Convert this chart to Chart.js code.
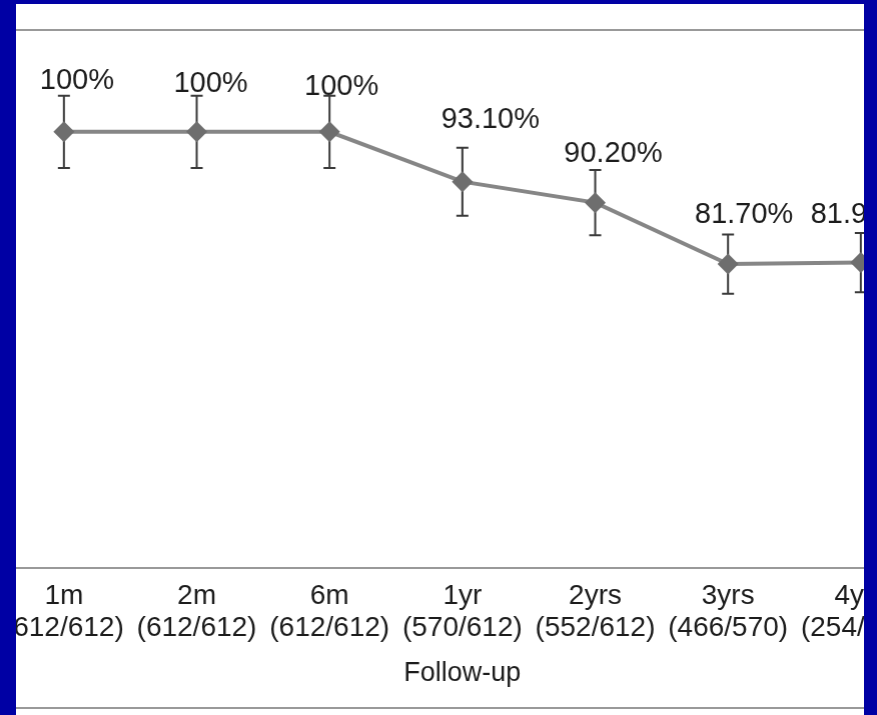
<!DOCTYPE html>
<html>
<head>
<meta charset="utf-8">
<script src="https://cdn.jsdelivr.net/npm/chart.js@4"></script>
<style>
    html, body { margin: 0; padding: 0; }
    body { width: 877px; height: 715px; background: rgb(0, 0, 164); position: relative; overflow: hidden; }
    #frame { position: absolute; left: 16px; top: 4px; width: 848px; height: 711px; background: #fff; overflow: hidden; }
    #frame .rule { position: absolute; left: 0; width: 100%; height: 2px; background: #999; }
    #box { position: absolute; left: -28.8px; top: 0; width: 949.7px; height: 711px; }
</style>
</head>
<body>
<div id="frame">
    <div class="rule" style="top:25px"></div>
    <div class="rule" style="top:703px"></div>
    <div id="box"><canvas id="followChart"></canvas></div>
</div>
<script>
const periods = ['1m', '2m', '6m', '1yr', '2yrs', '3yrs', '4yrs'];
const counts = ['(612/612)', '(612/612)', '(612/612)', '(570/612)', '(552/612)', '(466/570)', '(254/310)'];
const rates = [100, 100, 100, 93.1, 90.2, 81.7, 81.9];
const rateLabels = ['100%', '100%', '100%', '93.10%', '90.20%', '81.70%', '81.90%'];
const errors = [5, 5, 5, 4.7, 4.5, 4.1, 4.1];

Chart.defaults.font.family = '"Liberation Sans", Arial, sans-serif';
Chart.defaults.color = '#1c1c1c';

// error bars, drawn under the markers
const errorBars = {
    id: 'errorBars',
    beforeDatasetsDraw(chart) {
        const ctx = chart.ctx;
        const y = chart.scales.y;
        const meta = chart.getDatasetMeta(0);
        ctx.save();
        ctx.strokeStyle = '#3a3a3a';
        ctx.lineWidth = 2;
        meta.data.forEach((pt, i) => {
            const top = y.getPixelForValue(rates[i] + errors[i]);
            const bottom = y.getPixelForValue(rates[i] - errors[i]);
            ctx.beginPath();
            ctx.moveTo(pt.x, top);
            ctx.lineTo(pt.x, bottom);
            ctx.moveTo(pt.x - 6, top);
            ctx.lineTo(pt.x + 6, top);
            ctx.moveTo(pt.x - 6, bottom);
            ctx.lineTo(pt.x + 6, bottom);
            ctx.stroke();
        });
        ctx.restore();
    }
};

// value labels, nudged by hand like in the original sheet
const valueLabels = {
    id: 'valueLabels',
    afterDatasetsDraw(chart, args, opts) {
        const ctx = chart.ctx;
        const meta = chart.getDatasetMeta(0);
        ctx.save();
        ctx.font = '29px "Liberation Sans", Arial, sans-serif';
        ctx.fillStyle = '#1c1c1c';
        ctx.textAlign = 'center';
        ctx.textBaseline = 'middle';
        meta.data.forEach((pt, i) => {
            ctx.fillText(rateLabels[i], pt.x + opts.dx[i], pt.y + opts.dy[i]);
        });
        ctx.restore();
    }
};

document.addEventListener('DOMContentLoaded', () => {
    new Chart(document.getElementById('followChart'), {
        type: 'line',
        data: {
            labels: periods.map((p, i) => [p, counts[i]]),
            datasets: [{
                data: rates,
                borderColor: '#868686',
                borderWidth: 4,
                tension: 0,
                pointStyle: 'rectRot',
                pointRadius: 10.5,
                pointBackgroundColor: '#6e6e6e',
                pointBorderColor: '#6e6e6e',
                pointBorderWidth: 0
            }]
        },
        options: {
            responsive: true,
            maintainAspectRatio: false,
            animation: false,
            layout: { padding: { top: 26, bottom: 25.7, left: 0, right: 0 } },
            plugins: {
                legend: { display: false },
                tooltip: { enabled: false },
                valueLabels: {
                    dx: [13, 14, 12, 28, 18, 16, -1],
                    dy: [-51, -48, -45, -62, -49, -49, -48]
                }
            },
            scales: {
                x: {
                    offset: true,
                    grid: { display: false, drawTicks: false, tickLength: 0 },
                    border: { display: true, color: '#999', width: 2 },
                    ticks: {
                        autoSkip: false,
                        maxRotation: 0,
                        padding: 12,
                        color: '#1c1c1c',
                        font: { size: 28, lineHeight: 1.15 }
                    },
                    title: {
                        display: true,
                        text: 'Follow-up',
                        color: '#1c1c1c',
                        font: { size: 27, lineHeight: 1.2 },
                        padding: { top: 0.4, bottom: 0 }
                    }
                },
                y: {
                    display: false,
                    min: 39.6,
                    max: 114.1
                }
            }
        },
        plugins: [errorBars, valueLabels]
    });
});
</script>
</body>
</html>
